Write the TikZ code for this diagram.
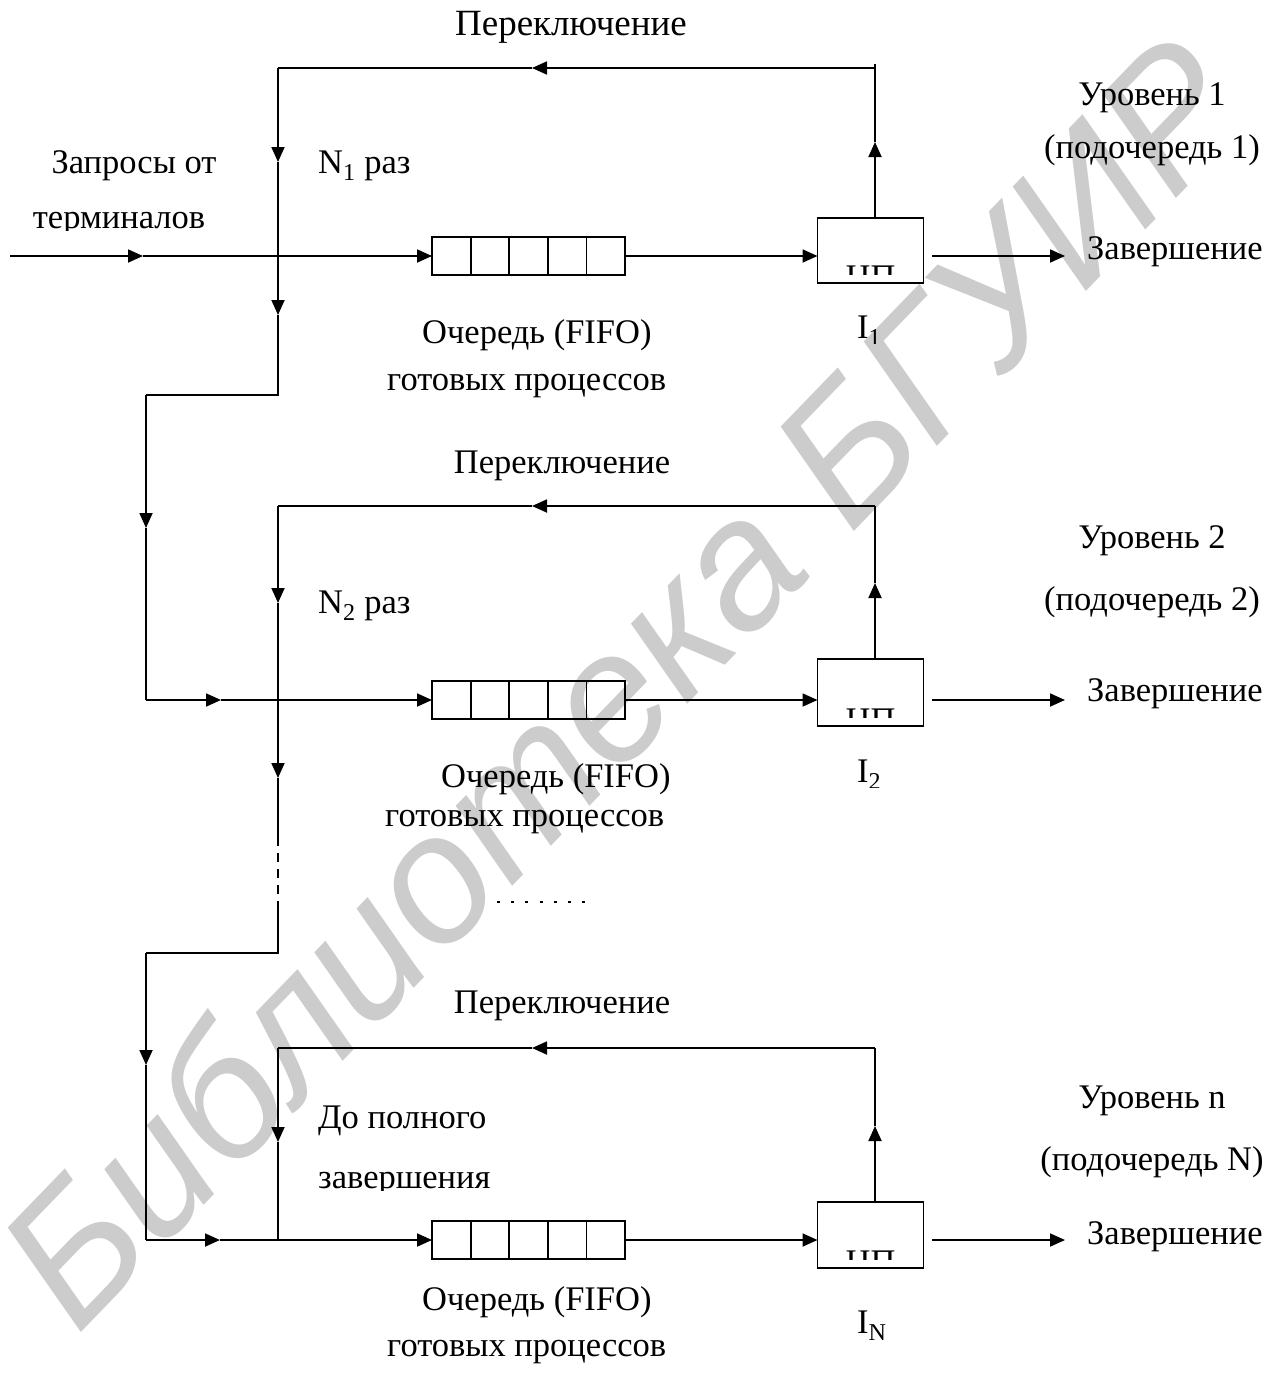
\documentclass[tikz,border=0pt]{standalone}
\usepackage{fontspec}
\setmainfont{Liberation Serif}
\newfontfamily\wmfont{Liberation Sans}
\usetikzlibrary{arrows.meta,calc}
\begin{document}
\begin{tikzpicture}[x=1pt,y=-1pt,
  line/.style={line width=1.8pt},
  arr/.style={line width=1.8pt,-{Triangle[length=15pt,width=13pt]}},
  lbl/.style={font=\fontsize{34.5}{40}\selectfont, inner sep=0pt},
  queue/.style={draw, line width=1.8pt, minimum width=193pt, minimum height=38pt, inner sep=0pt, outer sep=0pt},
  cpu/.style={draw, line width=1.8pt, minimum width=106pt, inner sep=0pt, outer sep=0pt},
  wm/.style={font=\wmfont\itshape\fontsize{182}{190}\selectfont, text=black!20, inner sep=0pt}
]
\useasboundingbox (0,0) rectangle (1286,1373);
\fill[white] (0,0) rectangle (1286,1373);
% watermark
\node[wm, rotate=46] (wmark) at (620,680) {Библиотека БГУИР};

% ---------------- Level 1 ----------------
\node[queue] (q1) at (528.5,256) {};
\foreach \i in {1,...,4}
  \draw[line] ($(q1.north west)!\i/5!(q1.north east)$) -- ($(q1.south west)!\i/5!(q1.south east)$);
\node[cpu, minimum height=65pt] (c1) at (870.5,250.5) {};
\begin{scope}
  \clip (c1.south west) ++(0,-30) rectangle ($(c1.south east)+(0,-9)$);
  \node[lbl, anchor=base] (cp1) at ($(c1.south)+(0,5)$) {ЦП};
\end{scope}
\coordinate (in1) at (10,256);
\coordinate (in1a) at (143,256);
\draw[arr] (in1) -- (in1a);
\draw[arr] (in1a) -- (q1.west);
\draw[arr] (q1.east) -- (c1.west |- q1.east);
\node[lbl, anchor=base west] (z1) at (1087,259) {Завершение};
\coordinate (o1) at (932,256);
\draw[arr] (o1) -- (1065,256);
% feedback
\coordinate (u1) at (875,142);
\coordinate (t1r) at (875,68);
\coordinate (t1a) at (532,68);
\coordinate (t1l) at (278,68);
\draw[arr] (c1.north -| u1) -- (u1);
\draw[line] (u1) -- ($(t1r)+(0,-4)$);
\draw[arr] (t1r) -- (t1a);
\draw[line] (t1a) -- (t1l);
\coordinate (d1a) at (278,162);
\coordinate (d1b) at (278,315);
\coordinate (d1c) at (278,395);
\coordinate (d1d) at (146,395);
\coordinate (d1e) at (146,528);
\coordinate (d1f) at (146,700);
\coordinate (d1g) at (221,700);
\draw[arr] (t1l) -- (d1a);
\draw[arr] (d1a) -- (d1b);
\draw[line] (d1b) -- (d1c) -- (d1d);
\draw[arr] (d1d) -- (d1e);
\draw[line] (d1e) -- (d1f);
\draw[arr] (d1f) -- (d1g);
% labels
\node[lbl, font=\fontsize{37}{42}\selectfont, anchor=base] (sw1) at (571,35) {Переключение};
\node[lbl, anchor=base] (lv1) at (1152,105) {Уровень 1};
\node[lbl, anchor=base] (sq1) at (1152,158) {(подочередь 1)};
\node[lbl, anchor=base] (rq1) at (134,173) {Запросы от};
\begin{scope}
  \clip (0,190) rectangle (250,230);
  \node[lbl, anchor=base] (rq2) at (119,228) {терминалов};
\end{scope}
\node[lbl, anchor=base west] (n1) at (318,173) {N\textsubscript{1} раз};
\node[lbl, anchor=base west] (qa1) at (422,343) {Очередь (FIFO)};
\node[lbl, anchor=base west] (qb1) at (387,390) {готовых процессов};
\begin{scope}
  \clip (840,300) rectangle (900,343);
  \node[lbl, anchor=base west] (i1) at (857,338) {I\textsubscript{1}};
\end{scope}

% ---------------- Level 2 ----------------
\node[queue] (q2) at (528.5,700) {};
\foreach \i in {1,...,4}
  \draw[line] ($(q2.north west)!\i/5!(q2.north east)$) -- ($(q2.south west)!\i/5!(q2.south east)$);
\node[cpu, minimum height=67pt] (c2) at (870.5,692.5) {};
\begin{scope}
  \clip (c2.south west) ++(0,-30) rectangle ($(c2.south east)+(0,-9)$);
  \node[lbl, anchor=base] (cp2) at ($(c2.south)+(0,5)$) {ЦП};
\end{scope}
\draw[arr] (d1g) -- (q2.west);
\draw[arr] (q2.east) -- (c2.west |- q2.east);
\node[lbl, anchor=base west] (z2) at (1087,701) {Завершение};
\coordinate (o2) at (932,700);
\draw[arr] (o2) -- (1065,700);
\coordinate (u2) at (875,583);
\coordinate (t2r) at (875,506);
\coordinate (t2a) at (532,506);
\coordinate (t2l) at (278,506);
\draw[arr] (c2.north -| u2) -- (u2);
\draw[line] (u2) -- (t2r);
\draw[arr] (t2r) -- (t2a);
\draw[line] (t2a) -- (t2l);
\coordinate (d2a) at (278,603);
\coordinate (d2b) at (278,778);
\coordinate (d2c) at (278,837);
\coordinate (d2d) at (278,907);
\coordinate (d2e) at (278,953);
\coordinate (d2f) at (146,953);
\coordinate (d2g) at (146,1065);
\coordinate (d2h) at (146,1240);
\coordinate (d2i) at (220,1240);
\draw[arr] (t2l) -- (d2a);
\draw[arr] (d2a) -- (d2b);
\draw[line] (d2b) -- (d2c);
\draw[line, dash pattern=on 9pt off 7pt] (d2c) -- (d2d);
\draw[line] (d2d) -- (d2e) -- (d2f);
\draw[arr] (d2f) -- (d2g);
\draw[line] (d2g) -- (d2h);
\draw[arr] (d2h) -- (d2i);
\node[lbl, anchor=base] (sw2) at (562,473) {Переключение};
\node[lbl, anchor=base] (lv2) at (1152,548) {Уровень 2};
\node[lbl, anchor=base] (sq2) at (1152,610) {(подочередь 2)};
\node[lbl, anchor=base west] (n2) at (318,613) {N\textsubscript{2} раз};
\node[lbl, anchor=base west] (qa2) at (441,787) {Очередь (FIFO)};
\node[lbl, anchor=base west] (qb2) at (385,826) {готовых процессов};
\begin{scope}
  \clip (840,740) rectangle (900,787);
  \node[lbl, anchor=base west] (i2) at (857,782) {I\textsubscript{2}};
\end{scope}
\coordinate (dots1) at (497,902);
\coordinate (dots2) at (590,902);
\draw[line width=1.4pt, dash pattern=on 3pt off 11.2pt] (dots1) -- (dots2);

% ---------------- Level 3 ----------------
\node[queue] (q3) at (528.5,1240) {};
\foreach \i in {1,...,4}
  \draw[line] ($(q3.north west)!\i/5!(q3.north east)$) -- ($(q3.south west)!\i/5!(q3.south east)$);
\node[cpu, minimum height=66pt] (c3) at (870.5,1235) {};
\begin{scope}
  \clip (c3.south west) ++(0,-30) rectangle ($(c3.south east)+(0,-9)$);
  \node[lbl, anchor=base] (cp3) at ($(c3.south)+(0,5)$) {ЦП};
\end{scope}
\draw[arr] (d2i) -- (q3.west);
\draw[arr] (q3.east) -- (c3.west |- q3.east);
\node[lbl, anchor=base west] (z3) at (1087,1244) {Завершение};
\coordinate (o3) at (932,1240);
\draw[arr] (o3) -- (1065,1240);
\coordinate (u3) at (875,1126);
\coordinate (t3r) at (875,1048);
\coordinate (t3a) at (532,1048);
\coordinate (t3l) at (278,1048);
\coordinate (d3a) at (278,1142);
\coordinate (d3b) at (278,1240);
\draw[arr] (c3.north -| u3) -- (u3);
\draw[line] (u3) -- (t3r);
\draw[arr] (t3r) -- (t3a);
\draw[line] (t3a) -- (t3l);
\draw[arr] (t3l) -- (d3a);
\draw[line] (d3a) -- (d3b);
\node[lbl, anchor=base] (sw3) at (562,1013) {Переключение};
\node[lbl, anchor=base] (lv3) at (1152,1108) {Уровень n};
\node[lbl, anchor=base] (sq3) at (1152,1170) {(подочередь N)};
\node[lbl, anchor=base west] (dp1) at (318,1128) {До полного};
\begin{scope}
  \clip (300,1150) rectangle (520,1190);
  \node[lbl, anchor=base west] (dp2) at (318,1188) {завершения};
\end{scope}
\node[lbl, anchor=base west] (qa3) at (422,1310) {Очередь (FIFO)};
\node[lbl, anchor=base west] (qb3) at (387,1356) {готовых процессов};
\node[lbl, anchor=base west] (i3) at (857,1333) {I\textsubscript{N}};
\end{tikzpicture}
\end{document}
